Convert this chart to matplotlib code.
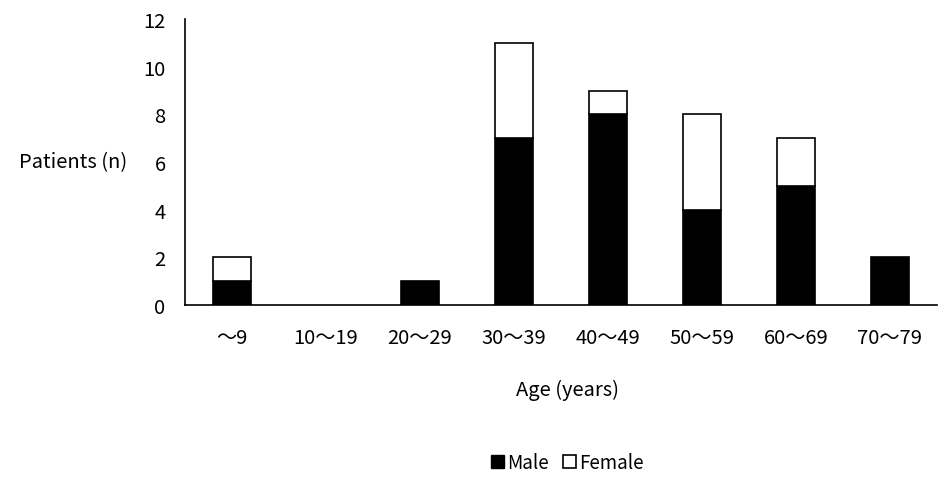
import numpy as np
import matplotlib.pyplot as plt
from matplotlib.patches import Patch

plt.rcParams['font.family'] = ['Noto Sans CJK JP', 'DejaVu Sans']

ages = ["～9", "10～19", "20～29", "30～39", "40～49", "50～59", "60～69", "70～79"]
male = [1, 0, 1, 7, 8, 4, 5, 2]
female = [1, 0, 0, 4, 1, 4, 2, 0]

fig = plt.figure(figsize=(9.47, 4.85), dpi=100)
ax = fig.add_axes([0.1954, 0.369, 0.794, 0.5896])

x = np.arange(len(ages))
# no outline for empty segments
lw_m = [1.2 if v > 0 else 0 for v in male]
lw_f = [1.2 if v > 0 else 0 for v in female]
ax.bar(x, male, width=0.4, color="black", edgecolor="black", linewidth=lw_m)
ax.bar(x, female, width=0.4, bottom=male, color="white", edgecolor="black", linewidth=lw_f)

ax.set_xlim(-0.5, len(ages) - 0.5)
ax.set_ylim(0, 12)
ax.set_yticks(range(0, 13, 2))
ax.set_xticks(x)
ax.set_xticklabels(ages)
ax.tick_params(axis="x", length=0, pad=16, labelsize=14.5)
ax.tick_params(axis="y", length=0, pad=14, labelsize=14.5)
for s in ["top", "right"]:
    ax.spines[s].set_visible(False)
ax.spines["left"].set_linewidth(1.2)
ax.spines["bottom"].set_linewidth(1.2)

fig.text(0.02, 0.665, "Patients (n)", fontsize=14.5, va="center", ha="left")
fig.text(0.599, 0.195, "Age (years)", fontsize=14.5, va="center", ha="center")

handles = [Patch(facecolor="black", edgecolor="black", label="Male"),
           Patch(facecolor="white", edgecolor="black", linewidth=1.2, label="Female")]
fig.legend(handles=handles, loc="center", bbox_to_anchor=(0.599, 0.045), ncol=2,
           frameon=False, fontsize=13.5, handlelength=0.7, handleheight=0.7,
           handletextpad=0.15, columnspacing=0.8)

fig.savefig("out.png", dpi=100)
